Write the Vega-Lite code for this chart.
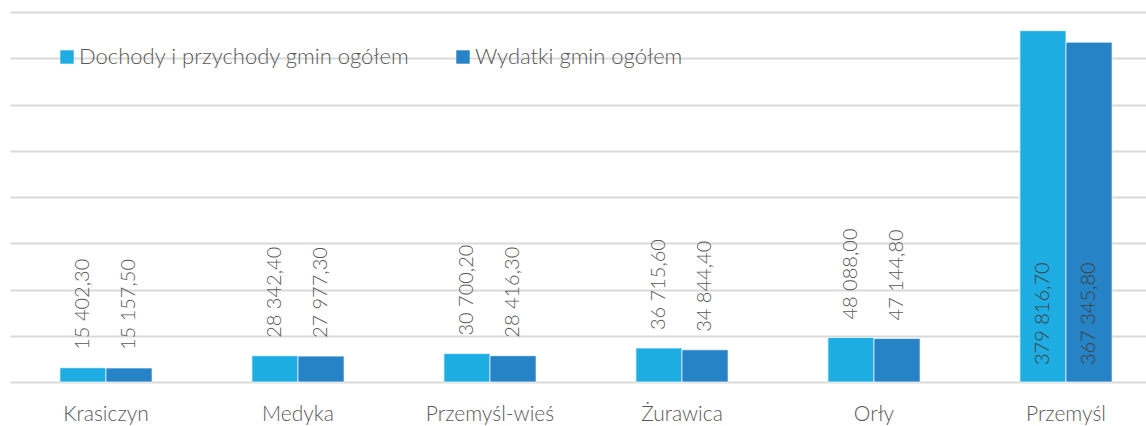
{
  "$schema": "https://vega.github.io/schema/vega-lite/v6.json",
  "width": 1152,
  "height": 370,
  "autosize": {"type": "none"},
  "padding": {"left": 10, "top": 12, "right": 0, "bottom": 44},
  "background": "white",
  "config": {"view": {"stroke": null}, "font": "Lato"},
  "data": {
    "values": [
      {"gmina": "Krasiczyn", "seria": "Dochody i przychody gmin ogółem", "wartosc": 15402.3, "etykieta": "15 402,30"},
      {"gmina": "Krasiczyn", "seria": "Wydatki gmin ogółem", "wartosc": 15157.5, "etykieta": "15 157,50"},
      {"gmina": "Medyka", "seria": "Dochody i przychody gmin ogółem", "wartosc": 28342.4, "etykieta": "28 342,40"},
      {"gmina": "Medyka", "seria": "Wydatki gmin ogółem", "wartosc": 27977.3, "etykieta": "27 977,30"},
      {"gmina": "Przemyśl-wieś", "seria": "Dochody i przychody gmin ogółem", "wartosc": 30700.2, "etykieta": "30 700,20"},
      {"gmina": "Przemyśl-wieś", "seria": "Wydatki gmin ogółem", "wartosc": 28416.3, "etykieta": "28 416,30"},
      {"gmina": "Żurawica", "seria": "Dochody i przychody gmin ogółem", "wartosc": 36715.6, "etykieta": "36 715,60"},
      {"gmina": "Żurawica", "seria": "Wydatki gmin ogółem", "wartosc": 34844.4, "etykieta": "34 844,40"},
      {"gmina": "Orły", "seria": "Dochody i przychody gmin ogółem", "wartosc": 48088.0, "etykieta": "48 088,00"},
      {"gmina": "Orły", "seria": "Wydatki gmin ogółem", "wartosc": 47144.8, "etykieta": "47 144,80"},
      {"gmina": "Przemyśl", "seria": "Dochody i przychody gmin ogółem", "wartosc": 379816.7, "etykieta": "379 816,70"},
      {"gmina": "Przemyśl", "seria": "Wydatki gmin ogółem", "wartosc": 367345.8, "etykieta": "367 345,80"}
    ]
  },
  "encoding": {
    "x": {
      "field": "gmina",
      "type": "nominal",
      "sort": null,
      "scale": {"paddingInner": 0.52, "paddingOuter": 0.26},
      "axis": {
        "title": null,
        "domain": false,
        "ticks": false,
        "labelAngle": 0,
        "labelFontSize": 21,
        "labelFontWeight": 300,
        "labelColor": "#595959",
        "labelPadding": 21,
        "labelFont": "Lato"
      }
    },
    "xOffset": {"field": "seria", "type": "nominal", "scale": {"paddingInner": 0}}
  },
  "layer": [
    {
      "mark": {"type": "bar", "stroke": "white", "strokeWidth": 0.7},
      "encoding": {
        "y": {
          "field": "wartosc",
          "type": "quantitative",
          "scale": {"domain": [0, 400000], "nice": false},
          "axis": {
            "title": null,
            "labels": false,
            "ticks": false,
            "domain": false,
            "tickCount": 8,
            "grid": true,
            "gridColor": "#d9d9d9",
            "gridWidth": 2
          }
        },
        "color": {
          "field": "seria",
          "type": "nominal",
          "scale": {"range": ["#1eade3", "#2683c6"]},
          "legend": {
            "title": null,
            "orient": "none",
            "legendX": 46,
            "legendY": 34,
            "direction": "horizontal",
            "symbolType": "square",
            "symbolSize": 180,
            "symbolStrokeWidth": 0,
            "labelFontSize": 22,
            "labelFontWeight": 300,
            "labelColor": "#595959",
            "labelFont": "Lato",
            "labelLimit": 500,
            "columnPadding": 42,
            "labelOffset": 1
          }
        }
      }
    },
    {
      "transform": [{"filter": "datum.wartosc < 100000"}],
      "mark": {"type": "text", "angle": 270, "align": "left", "baseline": "middle", "dx": 18, "fontSize": 20, "fontWeight": 300, "color": "#595959", "font": "Lato"},
      "encoding": {
        "y": {"field": "wartosc", "type": "quantitative"},
        "text": {"field": "etykieta"}
      }
    },
    {
      "transform": [{"filter": "datum.wartosc >= 100000"}],
      "mark": {"type": "text", "angle": 270, "align": "left", "baseline": "middle", "dx": 17, "fontSize": 20, "fontWeight": 300, "color": "#404040", "font": "Lato"},
      "encoding": {
        "y": {"datum": 0, "type": "quantitative"},
        "text": {"field": "etykieta"}
      }
    }
  ]
}
